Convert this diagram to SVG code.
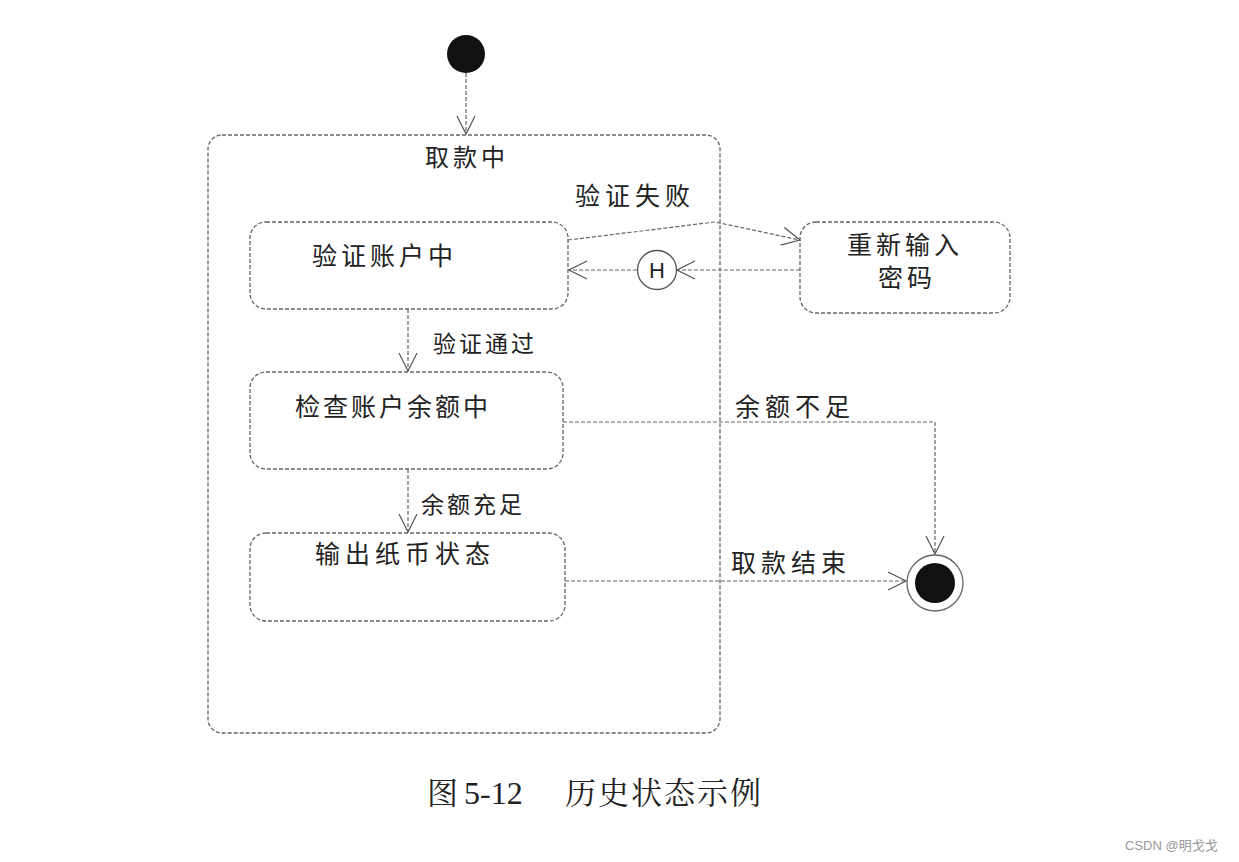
<svg xmlns="http://www.w3.org/2000/svg" width="1239" height="862" viewBox="0 0 1239 862">
<defs>
<marker id="open" viewBox="0 0 20 24" refX="19" refY="12" markerWidth="20" markerHeight="24" markerUnits="userSpaceOnUse" orient="auto">
<path d="M1,3 L19,12 L1,21" fill="none" stroke="#555" stroke-width="1.2"/>
</marker>
</defs>
<style>
.st{fill:none;stroke:#666;stroke-width:1.3;stroke-dasharray:4 2}
.ln{fill:none;stroke:#666;stroke-width:1.2;stroke-dasharray:4 2}
.t{font-family:"Noto Sans CJK SC","Noto Sans",sans-serif;fill:#222;font-size:25px;letter-spacing:4px}
.s{font-size:23px;letter-spacing:3px}
.cap{font-family:"Liberation Serif","Noto Serif CJK SC","Noto Sans CJK SC",serif;fill:#222;font-size:31px}
</style>
<rect width="1239" height="862" fill="#fff"/>
<g id="initial"><circle cx="466" cy="54" r="19" fill="#111"/></g>
<g id="composite">
<rect class="st" x="208" y="135" width="512" height="598" rx="14"/>
<text class="t" x="425" y="166" style="font-size:24px">取款中</text>
</g>
<g id="verify">
<rect class="st" x="250" y="222" width="318" height="87" rx="16"/>
<text class="t" x="312" y="265">验证账户中</text>
</g>
<g id="reenter">
<rect class="st" x="800" y="222" width="210" height="91" rx="16"/>
<text class="t" x="847" y="254">重新输入</text>
<text class="t" x="878" y="287">密码</text>
</g>
<g id="history">
<circle cx="657" cy="270" r="19.5" fill="#fff" stroke="#555" stroke-width="1.3"/>
<text x="657" y="278" font-size="22" text-anchor="middle" font-family="Liberation Sans,Arial,sans-serif" fill="#222">H</text>
</g>
<g id="check">
<rect class="st" x="250" y="372" width="313" height="97" rx="16"/>
<text class="t" x="295" y="416" style="letter-spacing:3px">检查账户余额中</text>
</g>
<g id="dispense">
<rect class="st" x="250" y="533" width="315" height="88" rx="16"/>
<text class="t" x="315" y="563" style="letter-spacing:5px">输出纸币状态</text>
</g>
<g id="final">
<circle cx="935" cy="583" r="28" fill="#fff" stroke="#666" stroke-width="1.3"/>
<circle cx="935" cy="583" r="20" fill="#111"/>
</g>
<g id="connectors">
<line class="ln" x1="466" y1="73" x2="466" y2="134" marker-end="url(#open)"/>
<polyline class="ln" points="568,240 715,222 800,240" marker-end="url(#open)"/>
<text class="t" x="575" y="205" style="letter-spacing:5px">验证失败</text>
<line class="ln" x1="800" y1="270" x2="677" y2="270" marker-end="url(#open)"/>
<line class="ln" x1="637" y1="270" x2="569" y2="270" marker-end="url(#open)"/>
<line class="ln" x1="408" y1="309" x2="408" y2="371" marker-end="url(#open)"/>
<text class="t s" x="433" y="352">验证通过</text>
<polyline class="ln" points="563,422 935,422 935,554" marker-end="url(#open)"/>
<text class="t" x="735" y="416" style="letter-spacing:5px">余额不足</text>
<line class="ln" x1="408" y1="469" x2="408" y2="532" marker-end="url(#open)"/>
<text class="t s" x="421" y="513">余额充足</text>
<line class="ln" x1="565" y1="581" x2="906" y2="581" marker-end="url(#open)"/>
<text class="t" x="731" y="572" style="letter-spacing:5px">取款结束</text>
</g>
<g id="caption">
<text class="cap" x="427" y="804">图</text>
<text class="cap" x="464" y="804" style="font-size:32px">5-12</text>
<text class="cap" x="565" y="804" style="letter-spacing:2px">历史状态示例</text>
</g>
<text x="1125" y="850" font-size="13" fill="#999" font-family="Liberation Sans,Arial,'Noto Sans CJK SC',sans-serif">CSDN @明戈戈</text>
</svg>
